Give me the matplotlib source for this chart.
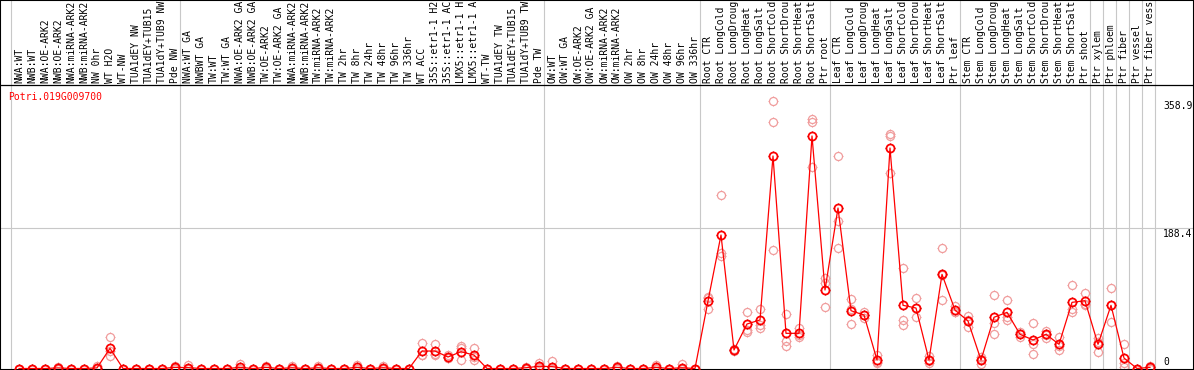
import matplotlib
matplotlib.use("Agg")
import matplotlib.pyplot as plt
from matplotlib.path import Path
from matplotlib.transforms import blended_transform_factory

gene = "Potri.019G009700"

labels = [
    "NWA:WT", "NWB:WT", "NWA:OE-ARK2", "NWB:OE-ARK2", "NWA:miRNA-ARK2",
    "NWB:miRNA-ARK2", "NW 0hr", "WT H2O", "WT-NW", "TUA1dEY NW",
    "TUA1dEY+TUB15", "TUA1dY+TUB9 NW", "Pde NW",
    "NWA:WT GA", "NWBWT GA", "TW:WT", "TW:WT GA", "NWA:OE-ARK2 GA",
    "NWB:OE-ARK2 GA", "TW:OE-ARK2", "TW:OE-ARK2 GA", "NWA:miRNA-ARK2",
    "NWB:miRNA-ARK2", "TW:miRNA-ARK2", "TW:miRNA-ARK2", "TW 2hr", "TW 8hr",
    "TW 24hr", "TW 48hr", "TW 96hr", "TW 336hr", "WT ACC", "35S::etr1-1 H2",
    "35S::etr1-1 AC", "LMX5::etr1-1 H", "LMX5::etr1-1 A", "WT-TW",
    "TUA1dEY TW", "TUA1dEY+TUB15", "TUA1dY+TUB9 TW", "Pde TW",
    "OW:WT", "OW:WT GA", "OW:OE-ARK2", "OW:OE-ARK2 GA", "OW:miRNA-ARK2",
    "OW:miRNA-ARK2", "OW 2hr", "OW 8hr", "OW 24hr", "OW 48hr", "OW 96hr",
    "OW 336hr",
    "Root CTR", "Root LongCold", "Root LongDroug", "Root LongHeat",
    "Root LongSalt", "Root ShortCold", "Root ShortDrou", "Root ShortHeat",
    "Root ShortSalt", "Ptr root",
    "Leaf CTR", "Leaf LongCold", "Leaf LongDroug", "Leaf LongHeat",
    "Leaf LongSalt", "Leaf ShortCold", "Leaf ShortDrou", "Leaf ShortHeat",
    "Leaf ShortSalt", "Ptr leaf",
    "Stem CTR", "Stem LongCold", "Stem LongDroug", "Stem LongHeat",
    "Stem LongSalt", "Stem ShortCold", "Stem ShortDrou", "Stem ShortHeat",
    "Stem ShortSalt", "Ptr shoot",
    "Ptr xylem", "Ptr phloem", "Ptr fiber", "Ptr vessel", "Ptr fiber vess",
]
group_sizes = [13, 28, 12, 10, 10, 10, 1, 1, 1, 1, 1]

mean_expr = [
    0, 0, 0, 0.8, 0, 0, 0.8, 27, 0, 0, 0, 0, 1.5,
    1.2, 0, 0, 0, 1.5, 0, 1.5, 0, 1, 0, 1, 0, 0, 1.5, 0, 1, 0, 0,
    23.4, 23.4, 15.4, 22.5, 18, 0, 0, 0, 1, 3,
    2.5, 0, 0, 0, 0, 1.5, 0, 0, 1.5, 0, 1, 0,
    90.4, 178.8, 24.8, 59.6, 65, 284.6, 47.1, 47.1, 311.4, 105.1,
    214.9, 77.4, 71.6, 11.4, 295.3, 84.6, 81, 11.4, 126.1, 78.3,
    63.6, 11.4, 68.6, 75.2, 45.8, 38.2, 45.8, 32.4, 88.6, 90.8,
    32.4, 84.6, 14, 0, 1.6,
]
rep_a = [
    0, 0, 0, 2.5, 0, 0, 3, 42, 0, 0, 0, 0, 3.5,
    4.5, 0, 0, 0, 6, 0, 4, 0, 3, 0, 3, 0, 0, 5, 0, 3, 0, 0,
    33.7, 32.4, 18, 29.7, 27, 0, 0, 0, 2.5, 7,
    10, 0, 0, 0, 0, 4, 0, 0, 5, 0, 6, 0,
    96.2, 232.4, 25, 75.2, 79.3, 358.9, 72.6, 53.8, 334.1, 121.6,
    284.6, 93, 76, 18, 311, 134.2, 94, 16.7, 161, 83.7,
    70.7, 13, 98.4, 91.7, 48.5, 60.5, 50.6, 41.8, 111.8, 100.7,
    40.4, 107.4, 32.4, 0, 3.7,
]
rep_b = [
    0, 0, 0, 0, 0, 0, 0, 16.3, 0, 0, 0, 0, 1,
    0, 0, 0, 0, 0, 0, 0.5, 0, 0, 0, 0, 0, 0, 0, 0, 0, 0, 0,
    18, 18, 14, 27, 11.4, 0, 0, 0, 0, 1.5,
    0, 0, 0, 0, 0, 0.5, 0, 0, 0, 0, 0, 0,
    79.3, 154.3, 24, 51.6, 58.3, 329.7, 36.8, 42.6, 330.5, 114.1,
    198, 59.6, 67.2, 7.8, 261.4, 65, 68.6, 7, 91.7, 75.2,
    55.2, 6, 61.3, 65, 42.6, 32.4, 41.3, 24.8, 79.3, 86.4,
    21.7, 61.9, 7.8, 0, 1,
]
rep_c = [
    0, 0, 0, 0, 0, 0, 0, 23, 0, 0, 0, 0, 0,
    0, 0, 0, 0, 0, 0, 0, 0, 0, 0, 0, 0, 0, 0, 0, 0, 0, 0,
    18.5, 20, 14, 11.4, 15.6, 0, 0, 0, 0, 0.5,
    0, 0, 0, 0, 0, 0, 0, 0, 0, 0, 0, 0,
    95, 151, 25.5, 49.3, 53.8, 158.7, 30.5, 45, 269.4, 82,
    161.8, 79.6, 71.6, 8.4, 313.5, 58.3, 80.4, 10.5, 125.6, 76,
    65, 15, 46.2, 69, 46.3, 19, 45.5, 30.6, 76, 85.3,
    35, 84.5, 1.8, 0, 0,
]
ytick_vals = [358.9, 188.4, 0]
ytick_text = ["358.9", "188.4", "0"]

W, H = 1194, 370
fig = plt.figure(figsize=(W / 100, H / 100), dpi=100)
ax = fig.add_axes([0, 0, 1, 1])
x = list(range(len(labels)))

# pixel layout: column i at 19 + 13*i px, value 0 at y=368.5 px, 0.7467 px per unit
ax.set_xlim(-19 / 13, (W - 19) / 13)
ax.set_ylim(-(H - 368.5) / 0.7467, 368.5 / 0.7467)
ax.set_xticks([])
ax.set_yticks([])
for s in ax.spines.values():
    s.set_color("black")
    s.set_linewidth(1.5)

grid_c = "#c8c8c8"
edges = [-1]
for g in group_sizes:
    edges.append(edges[-1] + g)
for e in edges:
    ax.axvline(e + 0.4, color=grid_c, lw=0.8, zorder=0)
ax.axhline(ytick_vals[1], color=grid_c, lw=0.8, zorder=0)
ax.plot([0, 1], [1 - 85 / H] * 2, transform=ax.transAxes, color="black", lw=0.9)

mono = "DejaVu Sans Mono"
tr = blended_transform_factory(ax.transData, ax.transAxes)
for xi, lab in zip(x, labels):
    ax.text(xi, 1 - 83 / H, lab, rotation=90, ha="center", va="bottom",
            fontsize=7, family=mono, transform=tr)

ax.text(8 / W, 1 - 97 / H, gene, color="red", fontsize=7, family=mono,
        ha="left", va="center", transform=ax.transAxes)
for v, t in zip(ytick_vals, ytick_text):
    ax.text(88.0, v + (1.5 if v == 0 else -1), t, fontsize=7, family=mono,
            ha="left", va="bottom" if v == 0 else "top")

# small tick marks sticking out of each circle
ticks = Path([(0, 1), (0, 1.3), (0, -1), (0, -1.3), (1, 0), (1.3, 0), (-1, 0), (-1.3, 0)],
             [Path.MOVETO, Path.LINETO] * 4)

pink = "#f09c9c"
for reps in (rep_a, rep_b, rep_c):
    ax.plot(x, reps, ls="none", marker="o", ms=5.8, mfc="none", mec=pink, mew=0.9, zorder=2)
    ax.plot(x, reps, ls="none", marker=ticks, ms=7.4, mfc="none", mec=pink, mew=0.7, zorder=2)

ax.plot(x, mean_expr, color="#ff0000", lw=0.9, zorder=3)
ax.plot(x, mean_expr, ls="none", marker="o", ms=5.8, mfc="none", mec="#ff0000", mew=1.3, zorder=4)
ax.plot(x, mean_expr, ls="none", marker=ticks, ms=7.4, mfc="none", mec="#cc0000", mew=0.8, zorder=4)

fig.savefig("out.png", dpi=100)
